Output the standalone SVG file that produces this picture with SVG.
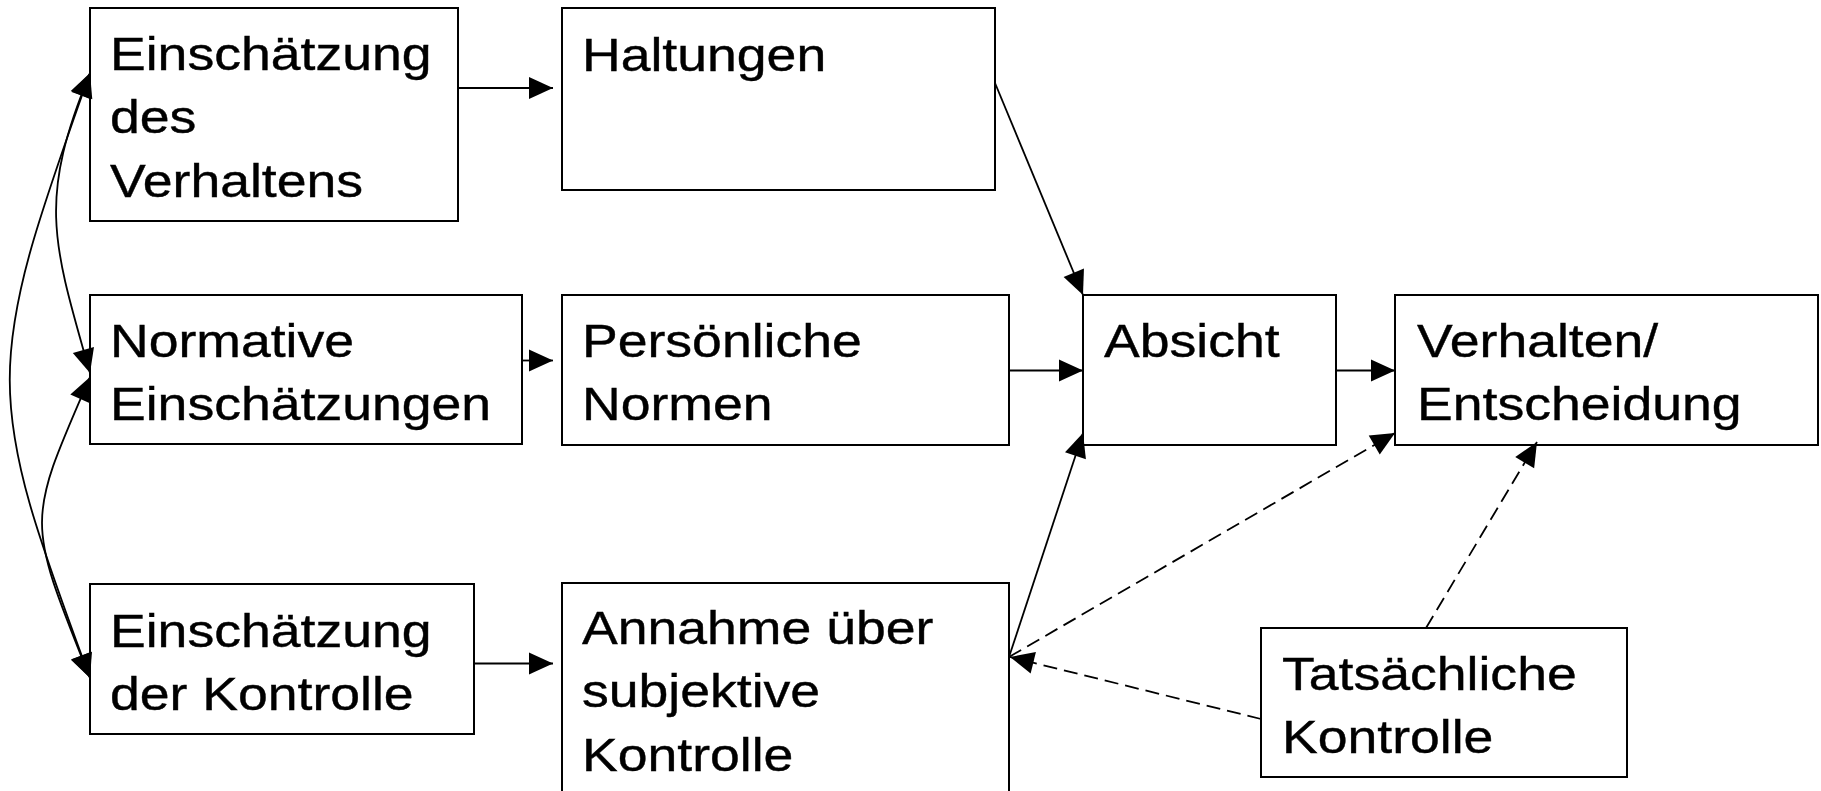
<svg xmlns="http://www.w3.org/2000/svg" width="1821" height="791" viewBox="0 0 1821 791">
<style>
.box{fill:#fff;stroke:#000;stroke-width:2}
.t{font-family:"Liberation Sans",Arial,sans-serif;font-size:47px;fill:#000;stroke:#000;stroke-width:0.4}
.c{fill:none;stroke:#000;stroke-width:1.8}
.d{stroke-dasharray:14 7}
</style>
<defs>
<marker id="ah" markerUnits="userSpaceOnUse" markerWidth="24" markerHeight="22" refX="24" refY="11" orient="auto-start-reverse" overflow="visible">
<path d="M0,0 L24,11 L0,22 z" fill="#000"/>
</marker>
</defs>
<rect width="1821" height="791" fill="#fff"/>

<g id="n1"><rect class="box" x="90" y="8" width="368" height="213"/>
<text class="t" transform="translate(110,70) scale(1.14,1)"><tspan x="0" y="0">Einschätzung</tspan><tspan x="0" y="63.5">des</tspan><tspan x="0" y="127">Verhaltens</tspan></text></g>

<g id="n2"><rect class="box" x="562" y="8" width="433" height="182"/>
<text class="t" transform="translate(582,71) scale(1.14,1)"><tspan x="0" y="0">Haltungen</tspan></text></g>

<g id="n3"><rect class="box" x="90" y="295" width="432" height="149"/>
<text class="t" transform="translate(110,357) scale(1.14,1)"><tspan x="0" y="0">Normative</tspan><tspan x="0" y="63.5">Einschätzungen</tspan></text></g>

<g id="n4"><rect class="box" x="562" y="295" width="447" height="150"/>
<text class="t" transform="translate(582,357) scale(1.14,1)"><tspan x="0" y="0">Persönliche</tspan><tspan x="0" y="63.5">Normen</tspan></text></g>

<g id="n5"><rect class="box" x="1083" y="295" width="253" height="150"/>
<text class="t" transform="translate(1104,357) scale(1.14,1)"><tspan x="0" y="0">Absicht</tspan></text></g>

<g id="n6"><rect class="box" x="1395" y="295" width="423" height="150"/>
<text class="t" transform="translate(1417,357) scale(1.14,1)"><tspan x="0" y="0">Verhalten/</tspan><tspan x="0" y="63.5">Entscheidung</tspan></text></g>

<g id="n7"><rect class="box" x="90" y="584" width="384" height="150"/>
<text class="t" transform="translate(110,646.5) scale(1.14,1)"><tspan x="0" y="0">Einschätzung</tspan><tspan x="0" y="63.5">der Kontrolle</tspan></text></g>

<g id="n8"><rect class="box" x="562" y="583" width="447" height="230"/>
<text class="t" transform="translate(582,644) scale(1.14,1)"><tspan x="0" y="0">Annahme über</tspan><tspan x="0" y="63.5">subjektive</tspan><tspan x="0" y="127">Kontrolle</tspan></text></g>

<g id="n9"><rect class="box" x="1261" y="628" width="366" height="149"/>
<text class="t" transform="translate(1282,690) scale(1.14,1)"><tspan x="0" y="0">Tatsächliche</tspan><tspan x="0" y="63.5">Kontrolle</tspan></text></g>

<g id="connectors">
<path class="c" d="M458,88 L553,88" marker-end="url(#ah)"/>
<path class="c" d="M522,360.5 L553,360.5" marker-end="url(#ah)"/>
<path class="c" d="M474,663.5 L553,663.5" marker-end="url(#ah)"/>
<path class="c" d="M1009,370.5 L1083,370.5" marker-end="url(#ah)"/>
<path class="c" d="M1336,370.5 L1395,370.5" marker-end="url(#ah)"/>
<path class="c" d="M995,83 L1083,295" marker-end="url(#ah)"/>
<path class="c" d="M1009,657 L1083,433" marker-end="url(#ah)"/>
<path class="c d" d="M1261,719 L1010,657" marker-end="url(#ah)"/>
<path class="c d" d="M1009,657 L1395,433" marker-end="url(#ah)"/>
<path class="c d" d="M1426,628 L1537,442" marker-end="url(#ah)"/>
<path class="c" d="M90,73 C38,200 52,240 90,373" marker-start="url(#ah)" marker-end="url(#ah)"/>
<path class="c" d="M90,73 C-17,372 -17,390 90,678" marker-start="url(#ah)" marker-end="url(#ah)"/>
<path class="c" d="M90,377 C26,524 26,518 90,678" marker-start="url(#ah)" marker-end="url(#ah)"/>
</g>
</svg>
